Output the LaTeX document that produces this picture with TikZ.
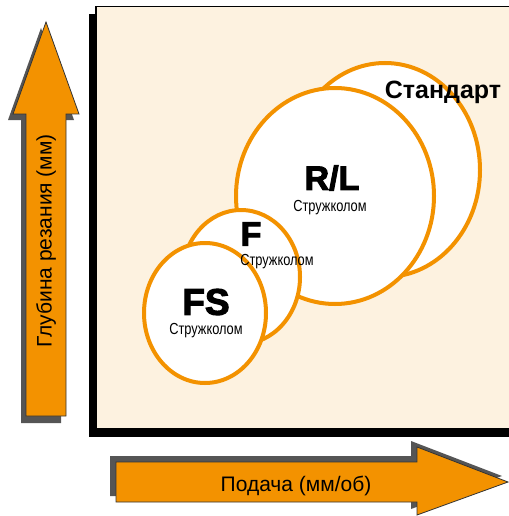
\documentclass[tikz,border=0pt]{standalone}
\usepackage{fontspec}
\setmainfont{Liberation Sans}
\newfontfamily\heavy{Liberation Sans}[UprightFont={* Bold},FakeBold=3]
\newfontfamily\boldsans{Liberation Sans}[UprightFont={* Bold}]
\newfontfamily\narrow{Liberation Sans}[FakeStretch=0.8]
\usetikzlibrary{shapes.geometric}
\definecolor{orng}{RGB}{243,146,0}
\definecolor{cream}{RGB}{253,242,224}
\definecolor{shadowgray}{RGB}{85,85,85}
\tikzset{
  blob/.style={ellipse, draw=orng, line width=4pt, fill=white, inner sep=0pt},
  bigtitle/.style={font=\heavy\fontsize{34}{34}\selectfont, inner sep=0pt},
  subtitle/.style={font=\narrow\fontsize{16}{16}\selectfont, inner sep=0pt},
  arrowbody/.style={fill=orng, draw=black!80, line width=0.8pt},
  arrowshadow/.style={fill=shadowgray},
  axislabel/.style={font=\fontsize{21}{21}\selectfont, inner sep=0pt}
}
\begin{document}
\begin{tikzpicture}[x=1pt,y=-1pt]
\useasboundingbox (0,0) rectangle (508,516);
% panel with shadow
\fill[black] (89,14) rectangle (520,437);
\fill[cream] (96,6) rectangle (520,428);
\draw[black, line width=1.5pt] (96,428) -- (96,6.5) -- (520,6.5);
% circles
\node[blob, minimum width=190pt, minimum height=214pt] (std) at (385,170) {};
\node[blob, minimum width=198pt, minimum height=216pt] (rl) at (335,196) {};
\node[blob, minimum width=118pt, minimum height=134pt] (f) at (241,277) {};
\node[blob, minimum width=122pt, minimum height=140pt] (fs) at (205,313) {};
% labels
\node[font=\boldsans\fontsize{25}{25}\selectfont, inner sep=0pt] (stdt) at (443,92) {Стандарт};
\node[bigtitle] (rlt) at (332,178) {R/L};
\node[subtitle] (rls) at (330,208) {Стружколом};
\node[bigtitle] (ft) at (251,234) {F};
\node[subtitle] (fss) at (277,262) {Стружколом};
\node[bigtitle, font=\heavy\fontsize{37}{37}\selectfont] (fst) at (206,302) {FS};
\node[subtitle] (fsss) at (206,331) {Стружколом};
% vertical arrow
\fill[arrowshadow] (41,28) -- (8,120) -- (21,120) -- (21,423) -- (61,423) -- (61,120) -- (74,120) -- cycle;
\draw[arrowbody] (46,22) -- (13,114) -- (26,114) -- (26,416) -- (66,416) -- (66,114) -- (79,114) -- cycle;
\node[axislabel, rotate=90] (ylab) at (46,241) {Глубина резания (мм)};
% horizontal arrow
\fill[arrowshadow] (110,456) -- (411,456) -- (411,441) -- (502,476) -- (411,509) -- (411,496) -- (110,496) -- cycle;
\draw[arrowbody] (116,462) -- (417,462) -- (417,447) -- (508,482) -- (417,515) -- (417,502) -- (116,502) -- cycle;
\node[axislabel] (xlab) at (296,486) {Подача (мм/об)};
\end{tikzpicture}
\end{document}
